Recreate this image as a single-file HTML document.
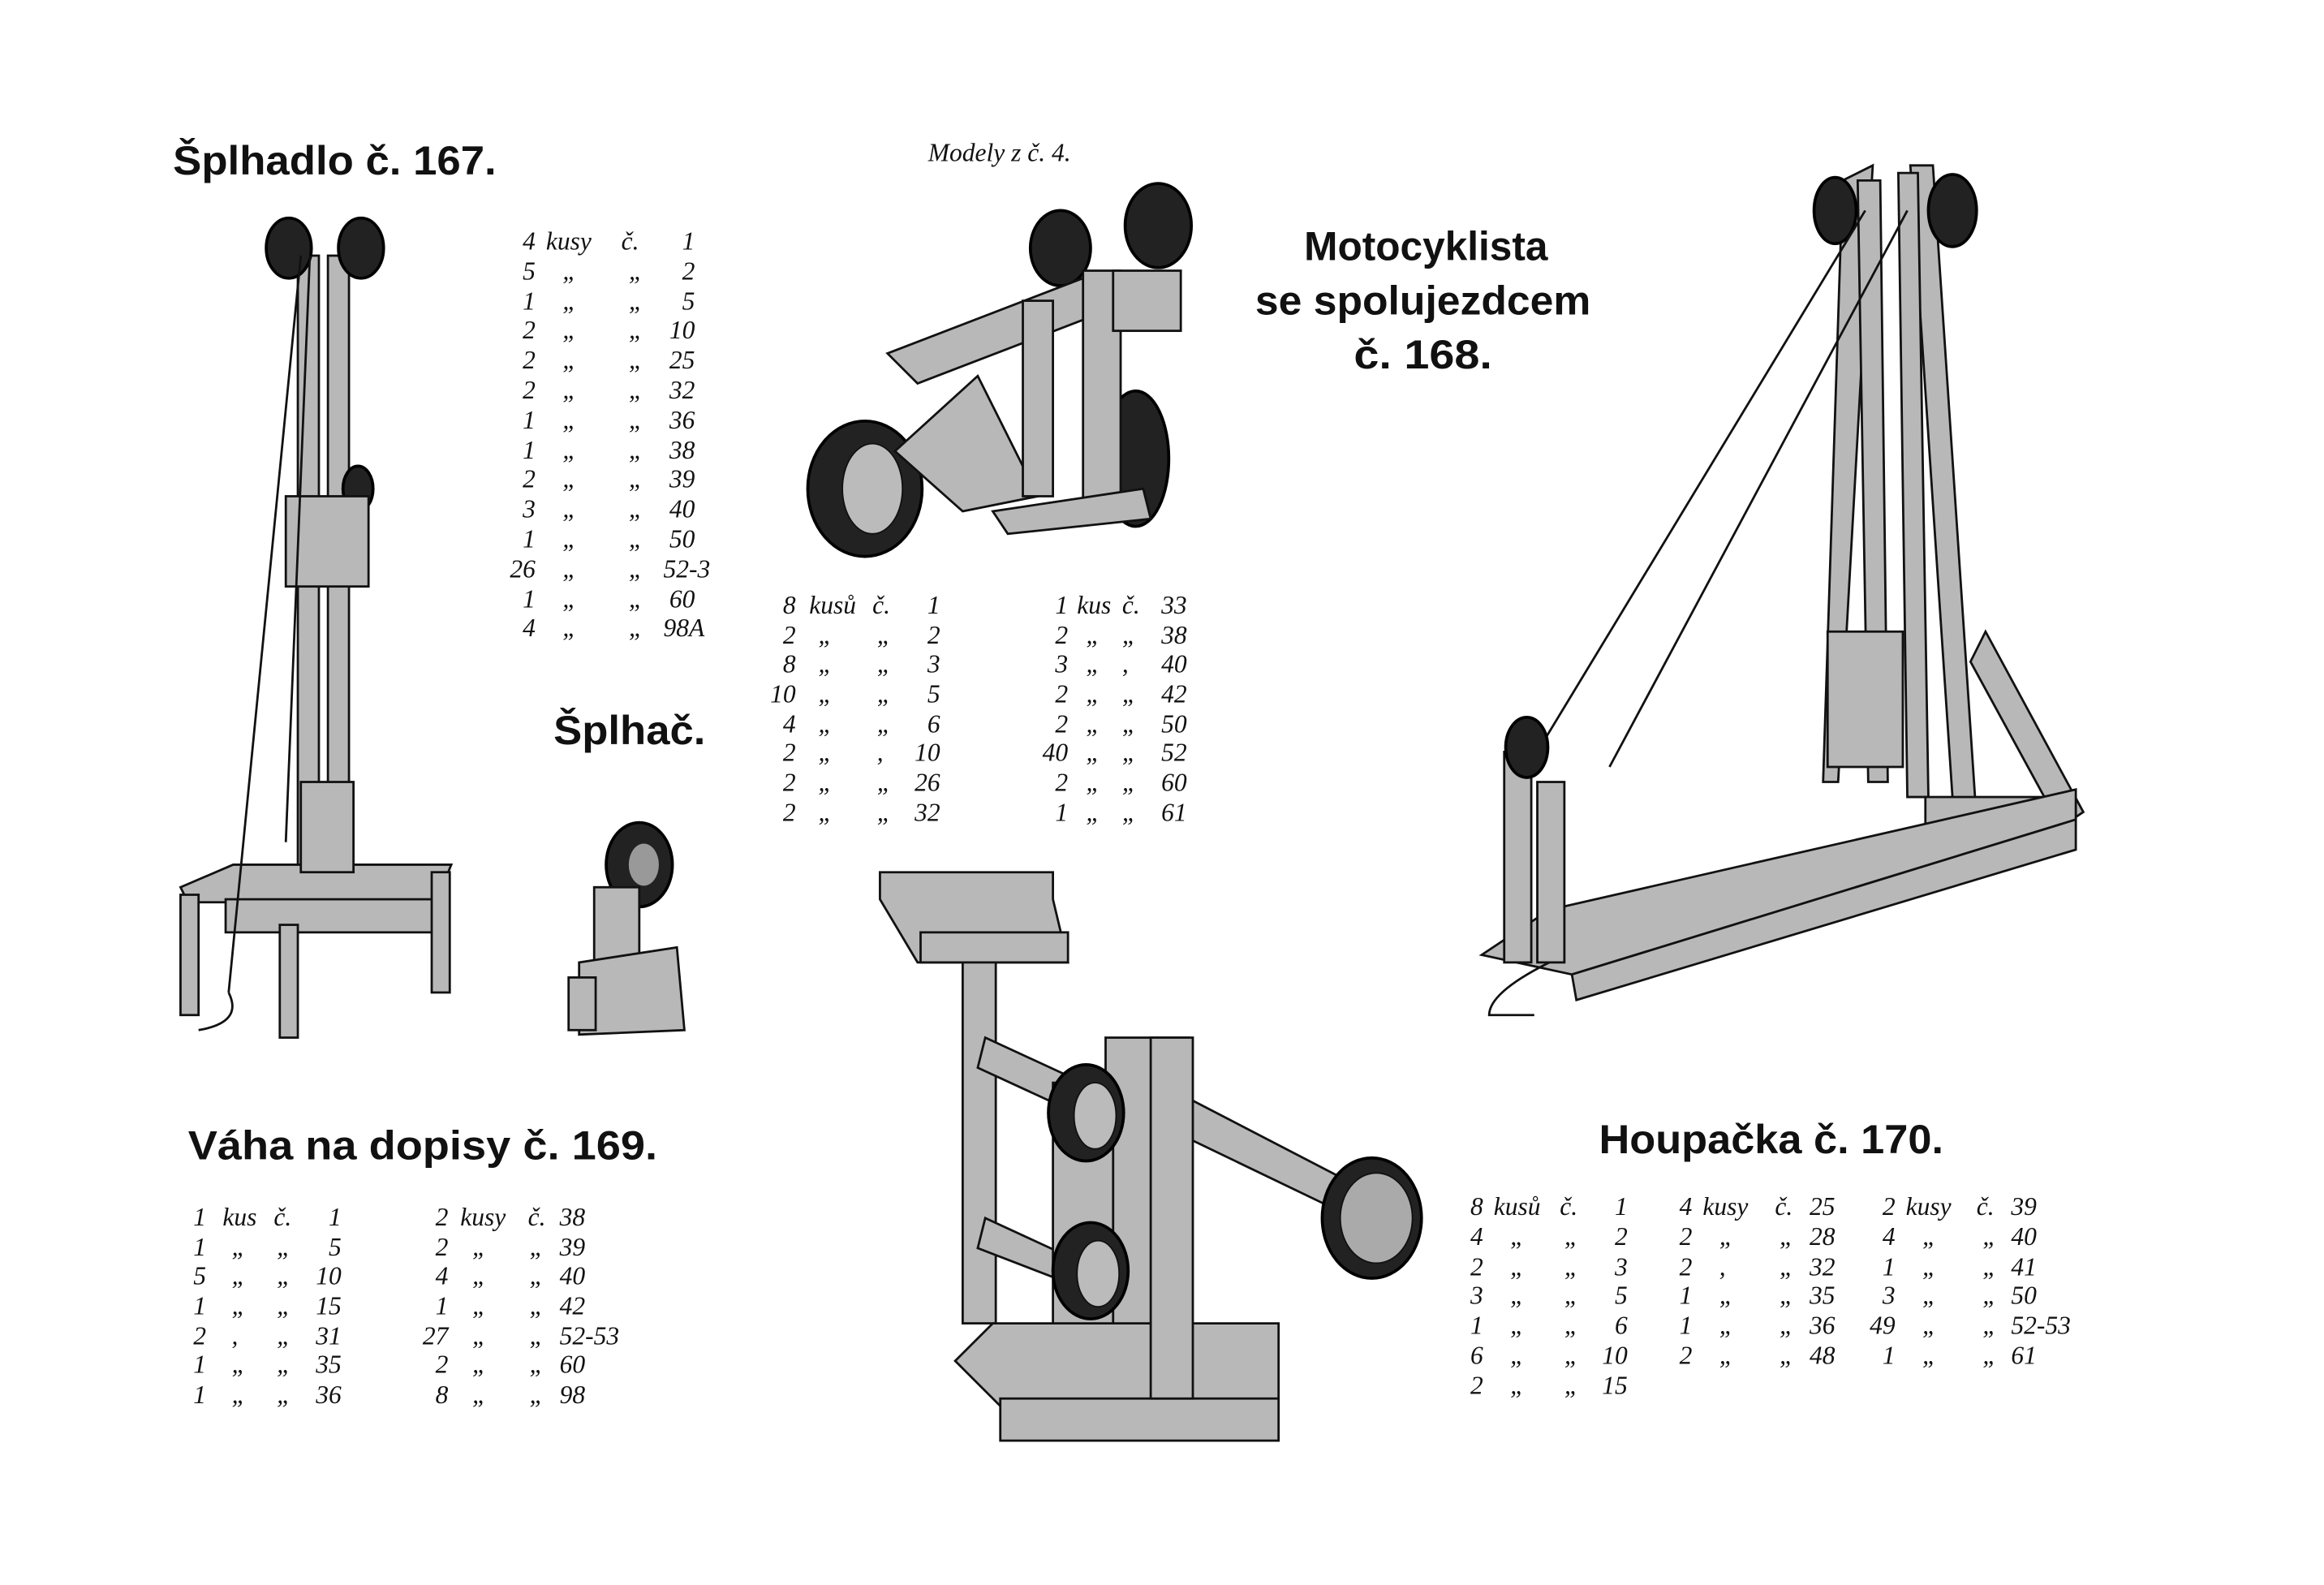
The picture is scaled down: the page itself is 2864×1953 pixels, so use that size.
<!DOCTYPE html>
<html><head><meta charset="utf-8"><style>
html,body{margin:0;padding:0;background:#fff;}
svg{display:block}
.t{font-family:"Liberation Sans",sans-serif;font-size:27px;font-weight:bold;fill:#111;}
.p{font-family:"Liberation Serif",serif;font-style:italic;font-size:17px;fill:#111;}
.s{fill:#b8b8b8;stroke:#111;stroke-width:1.5}
.w{fill:#222;stroke:#000;stroke-width:2}
.l{stroke:#111;stroke-width:1.5;fill:none}
</style></head><body>
<svg width="2864" height="1953" viewBox="0 0 1545 1054" preserveAspectRatio="none" xmlns="http://www.w3.org/2000/svg">
<rect width="1545" height="1054" fill="#fff"/>
<text class="t" x="115" y="116" textLength="215" lengthAdjust="spacingAndGlyphs">Šplhadlo č. 167.</text>
<text class="p" x="617" y="107" font-size="16">Modely z č. 4.</text>
<text class="t" x="948" y="173" text-anchor="middle" textLength="162" lengthAdjust="spacingAndGlyphs" font-weight="normal">Motocyklista</text>
<text class="t" x="946" y="209" text-anchor="middle" textLength="223" lengthAdjust="spacingAndGlyphs" font-weight="normal">se spolujezdcem</text>
<text class="t" x="946" y="245" text-anchor="middle" textLength="92" lengthAdjust="spacingAndGlyphs" font-weight="normal">č. 168.</text>
<text class="t" x="368" y="495" textLength="101" lengthAdjust="spacingAndGlyphs" font-weight="normal">Šplhač.</text>
<text class="t" x="125" y="771" textLength="312" lengthAdjust="spacingAndGlyphs">Váha na dopisy č. 169.</text>
<text class="t" x="1063" y="767" textLength="229" lengthAdjust="spacingAndGlyphs">Houpačka č. 170.</text>

<g class="p">
<text x="356" y="166" text-anchor="end">4</text><text x="363" y="166">kusy</text><text x="413" y="166">č.</text><text x="462" y="166" text-anchor="end">1</text>
<text x="356" y="186" text-anchor="end">5</text><text x="374" y="186">„</text><text x="418" y="186">„</text><text x="462" y="186" text-anchor="end">2</text>
<text x="356" y="206" text-anchor="end">1</text><text x="374" y="206">„</text><text x="418" y="206">„</text><text x="462" y="206" text-anchor="end">5</text>
<text x="356" y="225" text-anchor="end">2</text><text x="374" y="225">„</text><text x="418" y="225">„</text><text x="462" y="225" text-anchor="end">10</text>
<text x="356" y="245" text-anchor="end">2</text><text x="374" y="245">„</text><text x="418" y="245">„</text><text x="462" y="245" text-anchor="end">25</text>
<text x="356" y="265" text-anchor="end">2</text><text x="374" y="265">„</text><text x="418" y="265">„</text><text x="462" y="265" text-anchor="end">32</text>
<text x="356" y="285" text-anchor="end">1</text><text x="374" y="285">„</text><text x="418" y="285">„</text><text x="462" y="285" text-anchor="end">36</text>
<text x="356" y="305" text-anchor="end">1</text><text x="374" y="305">„</text><text x="418" y="305">„</text><text x="462" y="305" text-anchor="end">38</text>
<text x="356" y="324" text-anchor="end">2</text><text x="374" y="324">„</text><text x="418" y="324">„</text><text x="462" y="324" text-anchor="end">39</text>
<text x="356" y="344" text-anchor="end">3</text><text x="374" y="344">„</text><text x="418" y="344">„</text><text x="462" y="344" text-anchor="end">40</text>
<text x="356" y="364" text-anchor="end">1</text><text x="374" y="364">„</text><text x="418" y="364">„</text><text x="462" y="364" text-anchor="end">50</text>
<text x="356" y="384" text-anchor="end">26</text><text x="374" y="384">„</text><text x="418" y="384">„</text><text x="441" y="384">52-3</text>
<text x="356" y="404" text-anchor="end">1</text><text x="374" y="404">„</text><text x="418" y="404">„</text><text x="462" y="404" text-anchor="end">60</text>
<text x="356" y="423" text-anchor="end">4</text><text x="374" y="423">„</text><text x="418" y="423">„</text><text x="441" y="423">98A</text>
</g>

<g class="p">
<text x="529" y="408" text-anchor="end">8</text><text x="538" y="408">kusů</text><text x="580" y="408">č.</text><text x="625" y="408" text-anchor="end">1</text>
<text x="529" y="428" text-anchor="end">2</text><text x="544" y="428">„</text><text x="583" y="428">„</text><text x="625" y="428" text-anchor="end">2</text>
<text x="529" y="447" text-anchor="end">8</text><text x="544" y="447">„</text><text x="583" y="447">„</text><text x="625" y="447" text-anchor="end">3</text>
<text x="529" y="467" text-anchor="end">10</text><text x="544" y="467">„</text><text x="583" y="467">„</text><text x="625" y="467" text-anchor="end">5</text>
<text x="529" y="487" text-anchor="end">4</text><text x="544" y="487">„</text><text x="583" y="487">„</text><text x="625" y="487" text-anchor="end">6</text>
<text x="529" y="506" text-anchor="end">2</text><text x="544" y="506">„</text><text x="583" y="506">,</text><text x="625" y="506" text-anchor="end">10</text>
<text x="529" y="526" text-anchor="end">2</text><text x="544" y="526">„</text><text x="583" y="526">„</text><text x="625" y="526" text-anchor="end">26</text>
<text x="529" y="546" text-anchor="end">2</text><text x="544" y="546">„</text><text x="583" y="546">„</text><text x="625" y="546" text-anchor="end">32</text>
<text x="710" y="408" text-anchor="end">1</text><text x="716" y="408">kus</text><text x="746" y="408">č.</text><text x="789" y="408" text-anchor="end">33</text>
<text x="710" y="428" text-anchor="end">2</text><text x="722" y="428">„</text><text x="746" y="428">„</text><text x="789" y="428" text-anchor="end">38</text>
<text x="710" y="447" text-anchor="end">3</text><text x="722" y="447">„</text><text x="746" y="447">,</text><text x="789" y="447" text-anchor="end">40</text>
<text x="710" y="467" text-anchor="end">2</text><text x="722" y="467">„</text><text x="746" y="467">„</text><text x="789" y="467" text-anchor="end">42</text>
<text x="710" y="487" text-anchor="end">2</text><text x="722" y="487">„</text><text x="746" y="487">„</text><text x="789" y="487" text-anchor="end">50</text>
<text x="710" y="506" text-anchor="end">40</text><text x="722" y="506">„</text><text x="746" y="506">„</text><text x="789" y="506" text-anchor="end">52</text>
<text x="710" y="526" text-anchor="end">2</text><text x="722" y="526">„</text><text x="746" y="526">„</text><text x="789" y="526" text-anchor="end">60</text>
<text x="710" y="546" text-anchor="end">1</text><text x="722" y="546">„</text><text x="746" y="546">„</text><text x="789" y="546" text-anchor="end">61</text>
</g>

<g class="p">
<text x="137" y="815" text-anchor="end">1</text><text x="148" y="815">kus</text><text x="182" y="815">č.</text><text x="227" y="815" text-anchor="end">1</text>
<text x="137" y="835" text-anchor="end">1</text><text x="154" y="835">„</text><text x="184" y="835">„</text><text x="227" y="835" text-anchor="end">5</text>
<text x="137" y="854" text-anchor="end">5</text><text x="154" y="854">„</text><text x="184" y="854">„</text><text x="227" y="854" text-anchor="end">10</text>
<text x="137" y="874" text-anchor="end">1</text><text x="154" y="874">„</text><text x="184" y="874">„</text><text x="227" y="874" text-anchor="end">15</text>
<text x="137" y="894" text-anchor="end">2</text><text x="154" y="894">,</text><text x="184" y="894">„</text><text x="227" y="894" text-anchor="end">31</text>
<text x="137" y="913" text-anchor="end">1</text><text x="154" y="913">„</text><text x="184" y="913">„</text><text x="227" y="913" text-anchor="end">35</text>
<text x="137" y="933" text-anchor="end">1</text><text x="154" y="933">„</text><text x="184" y="933">„</text><text x="227" y="933" text-anchor="end">36</text>
<text x="298" y="815" text-anchor="end">2</text><text x="306" y="815">kusy</text><text x="351" y="815">č.</text><text x="372" y="815">38</text>
<text x="298" y="835" text-anchor="end">2</text><text x="314" y="835">„</text><text x="352" y="835">„</text><text x="372" y="835">39</text>
<text x="298" y="854" text-anchor="end">4</text><text x="314" y="854">„</text><text x="352" y="854">„</text><text x="372" y="854">40</text>
<text x="298" y="874" text-anchor="end">1</text><text x="314" y="874">„</text><text x="352" y="874">„</text><text x="372" y="874">42</text>
<text x="298" y="894" text-anchor="end">27</text><text x="314" y="894">„</text><text x="352" y="894">„</text><text x="372" y="894">52-53</text>
<text x="298" y="913" text-anchor="end">2</text><text x="314" y="913">„</text><text x="352" y="913">„</text><text x="372" y="913">60</text>
<text x="298" y="933" text-anchor="end">8</text><text x="314" y="933">„</text><text x="352" y="933">„</text><text x="372" y="933">98</text>
</g>

<g class="p">
<text x="986" y="808" text-anchor="end">8</text><text x="993" y="808">kusů</text><text x="1037" y="808">č.</text><text x="1082" y="808" text-anchor="end">1</text>
<text x="986" y="828" text-anchor="end">4</text><text x="1004" y="828">„</text><text x="1040" y="828">„</text><text x="1082" y="828" text-anchor="end">2</text>
<text x="986" y="848" text-anchor="end">2</text><text x="1004" y="848">„</text><text x="1040" y="848">„</text><text x="1082" y="848" text-anchor="end">3</text>
<text x="986" y="867" text-anchor="end">3</text><text x="1004" y="867">„</text><text x="1040" y="867">„</text><text x="1082" y="867" text-anchor="end">5</text>
<text x="986" y="887" text-anchor="end">1</text><text x="1004" y="887">„</text><text x="1040" y="887">„</text><text x="1082" y="887" text-anchor="end">6</text>
<text x="986" y="907" text-anchor="end">6</text><text x="1004" y="907">„</text><text x="1040" y="907">„</text><text x="1082" y="907" text-anchor="end">10</text>
<text x="986" y="927" text-anchor="end">2</text><text x="1004" y="927">„</text><text x="1040" y="927">„</text><text x="1082" y="927" text-anchor="end">15</text>
<text x="1125" y="808" text-anchor="end">4</text><text x="1132" y="808">kusy</text><text x="1180" y="808">č.</text><text x="1203" y="808">25</text>
<text x="1125" y="828" text-anchor="end">2</text><text x="1143" y="828">„</text><text x="1183" y="828">„</text><text x="1203" y="828">28</text>
<text x="1125" y="848" text-anchor="end">2</text><text x="1143" y="848">,</text><text x="1183" y="848">„</text><text x="1203" y="848">32</text>
<text x="1125" y="867" text-anchor="end">1</text><text x="1143" y="867">„</text><text x="1183" y="867">„</text><text x="1203" y="867">35</text>
<text x="1125" y="887" text-anchor="end">1</text><text x="1143" y="887">„</text><text x="1183" y="887">„</text><text x="1203" y="887">36</text>
<text x="1125" y="907" text-anchor="end">2</text><text x="1143" y="907">„</text><text x="1183" y="907">„</text><text x="1203" y="907">48</text>
<text x="1260" y="808" text-anchor="end">2</text><text x="1267" y="808">kusy</text><text x="1314" y="808">č.</text><text x="1337" y="808">39</text>
<text x="1260" y="828" text-anchor="end">4</text><text x="1278" y="828">„</text><text x="1318" y="828">„</text><text x="1337" y="828">40</text>
<text x="1260" y="848" text-anchor="end">1</text><text x="1278" y="848">„</text><text x="1318" y="848">„</text><text x="1337" y="848">41</text>
<text x="1260" y="867" text-anchor="end">3</text><text x="1278" y="867">„</text><text x="1318" y="867">„</text><text x="1337" y="867">50</text>
<text x="1260" y="887" text-anchor="end">49</text><text x="1278" y="887">„</text><text x="1318" y="887">„</text><text x="1337" y="887">52-53</text>
<text x="1260" y="907" text-anchor="end">1</text><text x="1278" y="907">„</text><text x="1318" y="907">„</text><text x="1337" y="907">61</text>
</g>

<g>
<rect class="s" x="198" y="170" width="14" height="420"/>
<rect class="s" x="218" y="170" width="14" height="420"/>
<ellipse class="w" cx="192" cy="165" rx="15" ry="20"/>
<ellipse class="w" cx="240" cy="165" rx="15" ry="20"/>
<ellipse class="w" cx="238" cy="325" rx="10" ry="15"/>
<rect class="s" x="190" y="330" width="55" height="60" fill="#888"/>
<polygon class="s" points="120,590 155,575 300,575 290,600 125,600"/>
<rect class="s" x="150" y="598" width="140" height="22"/>
<rect class="s" x="120" y="595" width="12" height="80"/>
<rect class="s" x="186" y="615" width="12" height="75"/>
<rect class="s" x="287" y="580" width="12" height="80"/>
<rect class="s" x="200" y="520" width="35" height="60" fill="#777"/>
<line class="l" x1="200" y1="170" x2="152" y2="660"/>
<line class="l" x1="206" y1="170" x2="190" y2="560"/>
<path class="l" d="M152,660 q10,20 -20,25"/>
</g>

<g>
<ellipse class="w" cx="575" cy="325" rx="38" ry="45"/>
<ellipse cx="580" cy="325" rx="20" ry="30" fill="#bbb" stroke="#111"/>
<ellipse class="w" cx="755" cy="305" rx="22" ry="45"/>
<ellipse class="w" cx="705" cy="165" rx="20" ry="25"/>
<ellipse class="w" cx="770" cy="150" rx="22" ry="28"/>
<polygon class="s" points="590,235 720,185 740,205 610,255"/>
<polygon class="s" points="595,300 650,250 690,330 640,340"/>
<rect class="s" x="720" y="180" width="25" height="160"/>
<rect class="s" x="680" y="200" width="20" height="130"/>
<polygon class="s" points="660,340 760,325 765,345 670,355"/>
<rect class="s" x="740" y="180" width="45" height="40" fill="#888"/>
</g>

<g>
<ellipse class="w" cx="425" cy="575" rx="22" ry="28"/>
<ellipse cx="428" cy="575" rx="10" ry="14" fill="#999"/>
<rect class="s" x="395" y="590" width="30" height="50" fill="#999"/>
<polygon class="s" points="385,640 450,630 455,685 385,688"/>
<rect class="s" x="378" y="650" width="18" height="35" fill="#555"/>
</g>

<g>
<polygon class="s" points="585,580 700,580 700,598 710,640 610,640 585,598" fill="#ccc"/>
<rect class="s" x="612" y="620" width="98" height="20" fill="#eee"/>
<rect class="s" x="640" y="640" width="22" height="240"/>
<polygon class="s" points="655,690 720,720 715,740 650,710"/>
<polygon class="s" points="655,810 720,840 715,855 650,830"/>
<polygon class="s" points="770,720 905,790 900,810 765,745"/>
<rect class="s" x="735" y="690" width="55" height="255" fill="#ddd"/>
<rect class="s" x="700" y="720" width="40" height="180"/>
<ellipse class="w" cx="722" cy="740" rx="25" ry="32"/>
<ellipse cx="728" cy="742" rx="14" ry="22" fill="#bbb" stroke="#111"/>
<ellipse class="w" cx="725" cy="845" rx="25" ry="32"/>
<ellipse cx="730" cy="847" rx="14" ry="22" fill="#bbb" stroke="#111"/>
<ellipse class="w" cx="912" cy="810" rx="33" ry="40"/>
<ellipse cx="915" cy="810" rx="24" ry="30" fill="#aaa" stroke="#111"/>
<polygon class="s" points="635,905 660,880 850,880 850,930 665,935" fill="#ccc"/>
<rect class="s" x="665" y="930" width="185" height="28" fill="#eee"/>
<rect class="s" x="765" y="690" width="28" height="240" fill="#f2f2f2"/>
</g>

<g>
<polygon class="s" points="1225,120 1245,110 1222,520 1212,520"/>
<polygon class="s" points="1270,110 1285,110 1315,560 1300,560"/>
<polygon class="s" points="1235,120 1250,120 1255,520 1242,520"/>
<polygon class="s" points="1262,115 1275,115 1282,530 1268,530"/>
<ellipse class="w" cx="1220" cy="140" rx="14" ry="22"/>
<ellipse class="w" cx="1298" cy="140" rx="16" ry="24"/>
<line class="l" x1="1240" y1="140" x2="1028" y2="490"/>
<line class="l" x1="1268" y1="140" x2="1070" y2="510"/>
<polygon class="s" points="1320,420 1385,540 1370,550 1310,440"/>
<rect class="s" x="1280" y="530" width="100" height="20"/>
<polygon class="s" points="985,635 1030,605 1380,525 1380,545 1045,648" fill="#ccc"/>
<polygon class="s" points="1045,648 1380,545 1380,565 1048,665" fill="#ddd"/>
<rect class="s" x="1000" y="500" width="18" height="140"/>
<rect class="s" x="1022" y="520" width="18" height="120"/>
<ellipse class="w" cx="1015" cy="497" rx="14" ry="20"/>
<rect class="s" x="1215" y="420" width="50" height="90" fill="#888"/>
<path class="l" d="M1030,640 q-40,20 -40,35 l30,0"/>
</g>
</svg>
</body></html>
